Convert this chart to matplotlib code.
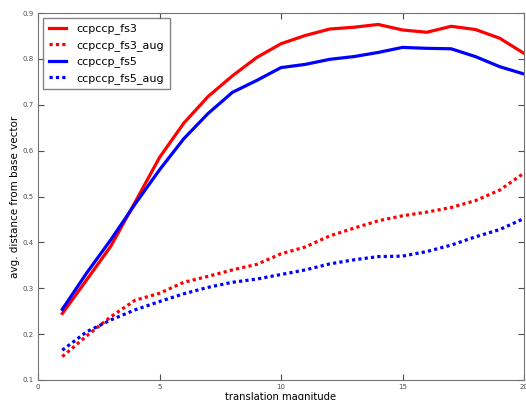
import numpy as np
import matplotlib
matplotlib.use("Agg")
import matplotlib.pyplot as plt

# translation magnitudes
x = np.arange(1, 21)

# average distance from base vector
fs3 = [0.245, 0.318, 0.392, 0.488, 0.585, 0.660, 0.718, 0.763, 0.803, 0.833,
       0.851, 0.865, 0.869, 0.875, 0.863, 0.858, 0.871, 0.864, 0.845, 0.812]
fs3_aug = [0.151, 0.196, 0.238, 0.274, 0.289, 0.313, 0.326, 0.340, 0.352, 0.375,
           0.390, 0.414, 0.431, 0.447, 0.458, 0.466, 0.476, 0.491, 0.514, 0.551]
fs5 = [0.254, 0.333, 0.406, 0.484, 0.558, 0.626, 0.681, 0.727, 0.753, 0.781,
       0.788, 0.799, 0.805, 0.814, 0.825, 0.823, 0.822, 0.805, 0.783, 0.767]
fs5_aug = [0.165, 0.205, 0.231, 0.253, 0.271, 0.288, 0.302, 0.313, 0.320, 0.330,
           0.340, 0.353, 0.362, 0.369, 0.370, 0.380, 0.394, 0.412, 0.428, 0.452]

fig = plt.figure(figsize=(5.26, 4.0), dpi=100)
ax = fig.add_axes([38/526., 20/400., (524-38)/526., (380-13)/400.])

LW = 2.3
ax.plot(x, fs3, color="red", lw=LW, label="ccpccp_fs3")
ax.plot(x, fs3_aug, color="red", lw=LW, dashes=(1, 1), label="ccpccp_fs3_aug")
ax.plot(x, fs5, color="blue", lw=LW, label="ccpccp_fs5")
ax.plot(x, fs5_aug, color="blue", lw=LW, dashes=(1, 1), label="ccpccp_fs5_aug")

ax.set_xlim(0, 20)
ax.set_ylim(0.1, 0.9)
ax.set_xticks([0, 5, 10, 15, 20])
ax.set_yticks(np.arange(0.1, 0.91, 0.1))
ax.tick_params(direction="in", labelsize=5, colors="0.3", top=True, right=True,
               length=4, pad=3)
for s in ax.spines.values():
  s.set_color("0.45")

ax.set_xlabel("translation magnitude", fontsize=7.2, labelpad=1)
ax.set_ylabel("avg. distance from base vector", fontsize=7.5, labelpad=1.5)

leg = ax.legend(loc="upper left", fontsize=8, fancybox=False, handlelength=1.6,
                handletextpad=0.9, borderaxespad=0.45, labelspacing=0.5,
                borderpad=0.5)
leg.get_frame().set_edgecolor("0.4")

fig.savefig("out.png", dpi=100)
